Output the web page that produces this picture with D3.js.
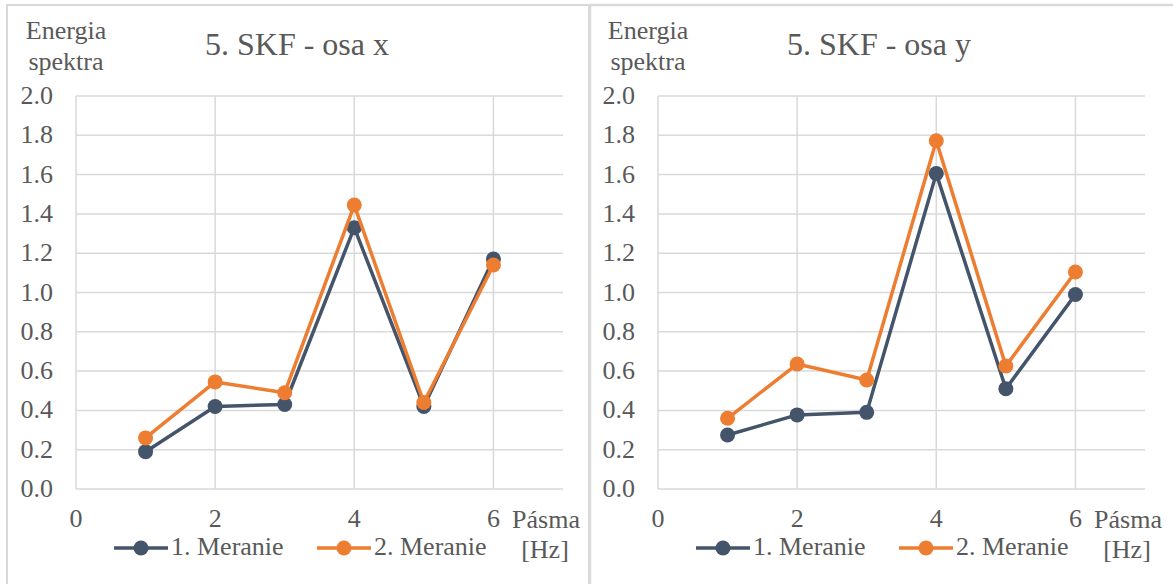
<!DOCTYPE html>
<html><head><meta charset="utf-8">
<script src="https://cdn.jsdelivr.net/npm/d3@7"></script>
<style>body{margin:0;background:#fff}svg{display:block}</style>
</head><body>
<script>
const bands = [1, 2, 3, 4, 5, 6];
const xTicks = [0, 2, 4, 6];
const yTicks = [0, 0.2, 0.4, 0.6, 0.8, 1.0, 1.2, 1.4, 1.6, 1.8, 2.0];
const seriesNames = ["1. Meranie", "2. Meranie"];
const titles = ["5. SKF - osa x", "5. SKF - osa y"];
const xMeranie1 = [0.19, 0.42, 0.43, 1.33, 0.42, 1.17];
const xMeranie2 = [0.26, 0.545, 0.49, 1.445, 0.44, 1.14];
const yMeranie1 = [0.275, 0.377, 0.39, 1.605, 0.51, 0.99];
const yMeranie2 = [0.36, 0.636, 0.555, 1.772, 0.626, 1.104];
const colors = ["#44546A", "#ED7D31"];

const FONT = '"Liberation Serif"';
const W = 1173, H = 584;
const svg = d3.select("body").append("svg").attr("width", W).attr("height", H);

svg.append("rect").attr("x", 7).attr("y", 5).attr("width", 582).attr("height", 600)
  .attr("fill", "none").attr("stroke", "#d9d9d9").attr("stroke-width", 2);
svg.append("rect").attr("x", 590).attr("y", 5).attr("width", 600).attr("height", 600)
  .attr("fill", "none").attr("stroke", "#d9d9d9").attr("stroke-width", 2.5);

function txt(g, x, y, s, size, anchor) {
  return g.append("text").attr("x", x).attr("y", y).attr("text-anchor", anchor || "start")
    .style("font-family", FONT).style("font-size", size + "px").attr("fill", "#595959").text(s);
}

function panel(ox, title, s1, s2) {
  const g = svg.append("g").attr("transform", `translate(${ox},0)`);
  const x = d3.scaleLinear().domain([0, 7]).range([76, 563]);
  const y = d3.scaleLinear().domain([0, 2]).range([489, 96]);
  g.append("g").selectAll("line").data(yTicks).join("line")
    .attr("x1", x(0)).attr("x2", x(7)).attr("y1", d => y(d)).attr("y2", d => y(d))
    .attr("stroke", "#d9d9d9").attr("stroke-width", 1.5);
  g.append("g").selectAll("line").data(xTicks).join("line")
    .attr("x1", d => x(d)).attr("x2", d => x(d)).attr("y1", y(0)).attr("y2", y(2))
    .attr("stroke", "#d9d9d9").attr("stroke-width", 1.5);
  yTicks.forEach(d => txt(g, 53, y(d) + 8, d3.format(".1f")(d), 26, "end"));
  xTicks.forEach(d => txt(g, x(d), 527, d, 26, "middle"));
  txt(g, 66, 39, "Energia", 26, "middle");
  txt(g, 66, 70, "spektra", 26, "middle");
  txt(g, 297, 55, title, 32, "middle");
  txt(g, 546, 528, "Pásma", 26, "middle");
  txt(g, 545, 558, "[Hz]", 26, "middle");
  const line = d3.line().x((d, i) => x(bands[i])).y(d => y(d));
  [s1, s2].forEach((s, k) => {
    g.append("path").datum(s).attr("d", line).attr("fill", "none")
      .attr("stroke", colors[k]).attr("stroke-width", 3.5).attr("stroke-linejoin", "round");
    g.append("g").selectAll("circle").data(s).join("circle")
      .attr("cx", (d, i) => x(bands[i])).attr("cy", d => y(d)).attr("r", 7.5)
      .attr("fill", colors[k]);
  });
  const lx = [114, 317];
  seriesNames.forEach((n, k) => {
    const lg = g.append("g");
    lg.append("line").attr("x1", lx[k]).attr("x2", lx[k] + 54).attr("y1", 548).attr("y2", 548)
      .attr("stroke", colors[k]).attr("stroke-width", 3.5);
    lg.append("circle").attr("cx", lx[k] + 27).attr("cy", 548).attr("r", 7.5).attr("fill", colors[k]);
    txt(lg, lx[k] + 57, 555, n, 26, "start");
  });
}
panel(0, titles[0], xMeranie1, xMeranie2);
panel(582, titles[1], yMeranie1, yMeranie2);
</script>
</body></html>
